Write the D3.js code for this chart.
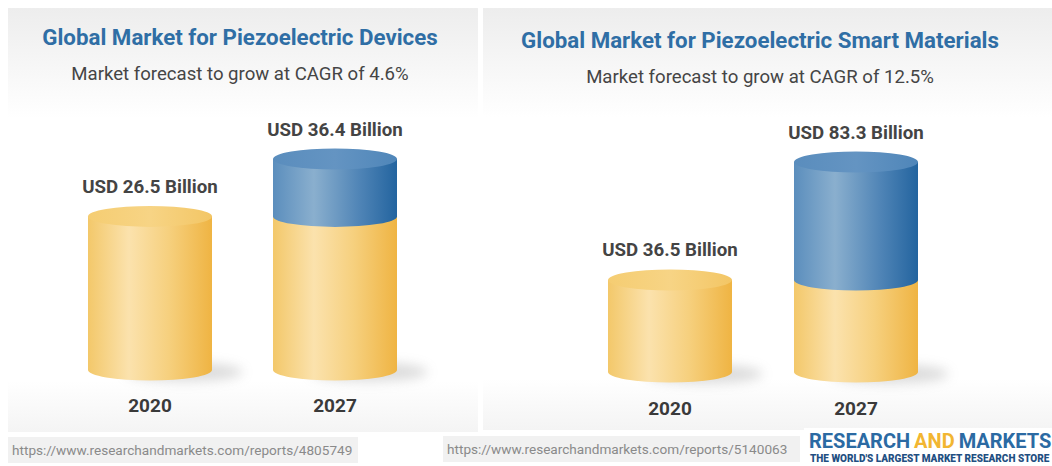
<!DOCTYPE html>
<html>
<head>
<meta charset="utf-8">
<script src="https://cdn.jsdelivr.net/npm/d3@7"></script>
<style>
  html, body { margin: 0; padding: 0; background: #ffffff; }
  svg { display: block; font-family: Roboto, "Open Sans", sans-serif; }
</style>
</head>
<body>
<svg id="chart" width="1052" height="466"></svg>
<script>
// Market sizes in USD billion, 2020 actual vs 2027 forecast
const years = ["2020", "2027"];
const devicesValues = [26.5, 36.4];
const smartValues = [36.5, 83.3];

const devicesTitle = "Global Market for Piezoelectric Devices";
const devicesSubtitle = "Market forecast to grow at CAGR of 4.6%";
const smartTitle = "Global Market for Piezoelectric Smart Materials";
const smartSubtitle = "Market forecast to grow at CAGR of 12.5%";

const devicesUrl = "https://www.researchandmarkets.com/reports/4805749";
const smartUrl = "https://www.researchandmarkets.com/reports/5140063";

const svg = d3.select("#chart");
const defs = svg.append("defs");

// Horizontal shading across the cylinder body
function hGrad(id, stops) {
  const g = defs.append("linearGradient").attr("id", id)
    .attr("x1", "0%").attr("x2", "100%").attr("y1", "0%").attr("y2", "0%");
  stops.forEach(([o, c]) => g.append("stop").attr("offset", o).attr("stop-color", c));
}
hGrad("gold-side", [["0%", "#f3c86a"], ["33%", "#fbe2ad"], ["65%", "#f6d07e"], ["100%", "#efb443"]]);
hGrad("gold-top", [["0%", "#f5cd72"], ["50%", "#f7d485"], ["100%", "#f3c665"]]);
hGrad("blue-side", [["0%", "#5b8ebd"], ["33%", "#8aafce"], ["70%", "#4f84b6"], ["100%", "#23649f"]]);
hGrad("blue-top", [["0%", "#5a8dbd"], ["50%", "#6494c2"], ["100%", "#4f86b9"]]);

// Panel background: grey at the head, white in the middle, light grey at the foot
const bg = defs.append("linearGradient").attr("id", "panel-bg")
  .attr("x1", "0%").attr("x2", "0%").attr("y1", "0%").attr("y2", "100%");
[["0%", "#ededed"], ["26%", "#ffffff"], ["88%", "#ffffff"], ["100%", "#f4f4f4"]]
  .forEach(([o, c]) => bg.append("stop").attr("offset", o).attr("stop-color", c));

const blur = defs.append("filter").attr("id", "shadow-blur")
  .attr("x", "-50%").attr("y", "-200%").attr("width", "200%").attr("height", "500%");
blur.append("feGaussianBlur").attr("stdDeviation", 6);

function cylinderPanel(cfg) {
  const g = svg.append("g");

  g.append("rect")
    .attr("x", cfg.panel[0]).attr("y", cfg.panel[1])
    .attr("width", cfg.panel[2]).attr("height", cfg.panel[3])
    .attr("fill", "url(#panel-bg)");

  g.append("text")
    .attr("x", cfg.titleX).attr("y", cfg.titleY)
    .attr("text-anchor", "middle")
    .attr("font-size", 22.3).attr("font-weight", 700)
    .attr("fill", "#2f6ea5")
    .text(cfg.title);

  g.append("text")
    .attr("x", cfg.titleX).attr("y", cfg.titleY + 35)
    .attr("text-anchor", "middle")
    .attr("font-size", 18.6)
    .attr("fill", "#454545")
    .text(cfg.subtitle);

  const x = d3.scalePoint().domain(years).range(cfg.xRange);
  const h = d3.scaleLinear().domain([0, d3.max(cfg.values)]).range([0, cfg.maxH]);
  const rx = cfg.rx, ry = cfg.ry, base = cfg.baseY;

  const side = (cx, yTop, yBot) =>
    `M${cx - rx},${yTop} L${cx - rx},${yBot} A${rx},${ry} 0 0 0 ${cx + rx},${yBot} L${cx + rx},${yTop} Z`;

  years.forEach((yr, i) => {
    const cx = x(yr);
    const v = cfg.values[i];
    const baseVal = cfg.values[0];

    // soft floor shadow to the right
    g.append("ellipse")
      .attr("cx", cx + rx * 0.55).attr("cy", base + 2)
      .attr("rx", rx * 0.95).attr("ry", ry * 0.9)
      .attr("fill", "#9a9a9a").attr("opacity", 0.35)
      .attr("filter", "url(#shadow-blur)");

    // gold body up to the 2020 level
    const goldTop = base - h(Math.min(v, baseVal));
    g.append("path").attr("d", side(cx, goldTop, base)).attr("fill", "url(#gold-side)");

    let topY = goldTop, topFill = "url(#gold-top)";
    if (v > baseVal) {
      const blueTop = base - h(v);
      g.append("path").attr("d", side(cx, blueTop, goldTop)).attr("fill", "url(#blue-side)");
      topY = blueTop; topFill = "url(#blue-top)";
    }
    g.append("ellipse")
      .attr("cx", cx).attr("cy", topY).attr("rx", rx).attr("ry", ry)
      .attr("fill", topFill);

    g.append("text")
      .attr("x", cx).attr("y", topY - ry - 13)
      .attr("text-anchor", "middle")
      .attr("font-size", 18.7).attr("font-weight", 700)
      .attr("fill", "#444444")
      .text(`USD ${v} Billion`);

    g.append("text")
      .attr("x", cx).attr("y", cfg.yearY)
      .attr("text-anchor", "middle")
      .attr("font-size", 19).attr("font-weight", 700)
      .attr("fill", "#3a3a3a")
      .text(yr);
  });

  // source link strip
  g.append("rect")
    .attr("x", cfg.url[0]).attr("y", cfg.url[1])
    .attr("width", cfg.url[2]).attr("height", cfg.url[3])
    .attr("fill", "#f1f1f1");
  g.append("text")
    .attr("x", cfg.url[0] + 4).attr("y", cfg.url[1] + cfg.url[3] / 2 + 5)
    .attr("font-size", 13.6)
    .attr("fill", "#8a8a8a")
    .text(cfg.urlText);
}

cylinderPanel({
  panel: [8, 8, 470, 424],
  title: devicesTitle, subtitle: devicesSubtitle,
  titleX: 240, titleY: 45,
  values: devicesValues,
  xRange: [150, 335], rx: 62, ry: 10.5, baseY: 370, maxH: 211,
  yearY: 412,
  url: [8, 437, 350, 26], urlText: devicesUrl
});

cylinderPanel({
  panel: [483, 8, 569, 422],
  title: smartTitle, subtitle: smartSubtitle,
  titleX: 760, titleY: 48,
  values: smartValues,
  xRange: [670, 856], rx: 62, ry: 10.5, baseY: 372, maxH: 210,
  yearY: 415,
  url: [443, 436, 357, 26], urlText: smartUrl
});

// Publisher wordmark in the lower right corner, one word at a time
const logo = svg.append("g");
logo.append("rect").attr("x", 804).attr("y", 428).attr("width", 248).attr("height", 38).attr("fill", "#ffffff");
const logoWords = [["RESEARCH", "#2b6aa3"], ["AND", "#f2b632"], ["MARKETS", "#2b6aa3"]];
let lx = 809;
logoWords.forEach(([w, c]) => {
  const t = logo.append("text")
    .attr("x", lx).attr("y", 448)
    .attr("font-size", 20).attr("font-weight", 700)
    .attr("fill", c)
    .text(w);
  lx += t.node().getComputedTextLength() + 4;
});
logo.append("text")
  .attr("x", 810).attr("y", 462)
  .attr("font-size", 10).attr("font-weight", 900)
  .attr("fill", "#1f4f82")
  .text("THE WORLD'S LARGEST MARKET RESEARCH STORE");
</script>
</body>
</html>
